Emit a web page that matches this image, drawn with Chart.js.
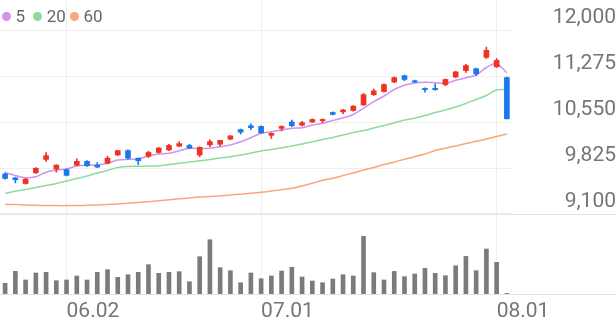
<!DOCTYPE html>
<html lang="ko">
<head>
  <meta charset="UTF-8" />
  <title>Daily price chart</title>
  <script src="https://cdn.jsdelivr.net/npm/chart.js"></script>
  <style>
    html, body { margin: 0; padding: 0; background: #fff; }
    .chart-box { position: relative; width: 616px; height: 321px; }
    /* MA legend sits on top of the plot, like the original */
    .legend { position: absolute; top: 0; left: 0; font: 17px Roboto, sans-serif; color: #666; }
    .legend .item { position: absolute; top: 6px; display: flex; align-items: center; white-space: nowrap; line-height: 20px; }
    .legend i { display: inline-block; width: 9px; height: 9px; border-radius: 50%; margin-right: 5px; }
  </style>
</head>
<body>
  <div class="chart-box">
    <canvas id="stockChart"></canvas>
    <div class="legend" id="legend"></div>
  </div>

  <script>
    // Trading days (only a few get a tick label)
    const dates = [
      '05.24','05.25','05.26','05.27','05.30','05.31','06.02','06.03','06.07','06.08',
      '06.09','06.10','06.13','06.14','06.15','06.16','06.17','06.20','06.21','06.22',
      '06.23','06.24','06.27','06.28','06.29','07.01','07.04','07.05','07.06','07.07',
      '07.08','07.11','07.12','07.13','07.14','07.15','07.18','07.19','07.20','07.21',
      '07.22','07.25','07.26','07.27','07.28','07.29','07.30','07.31','08.01','08.02'
    ];
    const tickLabels = ['06.02', '07.01', '08.01'];

    // Daily prices
    const opens  = [9730, 9670, 9580, 9750, 9960, 9810, 9800, 9870, 9930, 9870,
                    9900, 10030, 10100, 9980, 10010, 10070, 10110, 10170, 10180, 10030,
                    10190, 10200, 10280, 10430, 10490, 10480, 10340, 10450, 10550, 10500,
                    10550, 10570, 10700, 10710, 10730, 10820, 10980, 11030, 11180, 11280,
                    11200, 11080, 11080, 11140, 11260, 11360, 11390, 11570, 11420, 11250];
    const highs  = [9750, 9680, 9660, 9830, 10070, 9880, 9810, 9970, 9940, 9910,
                    10010, 10100, 10110, 9980, 10090, 10150, 10200, 10240, 10200, 10160,
                    10270, 10260, 10340, 10440, 10520, 10490, 10380, 10490, 10580, 10560,
                    10600, 10600, 10710, 10750, 10810, 11000, 11070, 11150, 11260, 11290,
                    11210, 11090, 11150, 11230, 11350, 11460, 11400, 11730, 11550, 11260];
    const lows   = [9650, 9590, 9570, 9740, 9930, 9760, 9700, 9860, 9850, 9830,
                    9890, 10020, 9960, 9880, 9990, 10060, 10100, 10160, 10130, 10000,
                    10160, 10170, 10270, 10360, 10430, 10370, 10290, 10410, 10480, 10490,
                    10540, 10540, 10660, 10680, 10720, 10810, 10970, 11020, 11170, 11200,
                    11170, 11020, 11050, 11120, 11250, 11330, 11280, 11550, 11410, 10600];
    const closes = [9660, 9640, 9650, 9820, 10020, 9870, 9710, 9930, 9860, 9840,
                    9980, 10100, 9980, 9940, 10070, 10140, 10180, 10210, 10140, 10150,
                    10240, 10260, 10330, 10390, 10460, 10380, 10370, 10480, 10490, 10540,
                    10590, 10590, 10670, 10740, 10800, 10980, 11040, 11140, 11250, 11220,
                    11180, 11060, 11060, 11220, 11340, 11440, 11310, 11680, 11520, 10600];

    // Moving averages
    const ma5  = [9754, 9707, 9672, 9688, 9757, 9793, 9809, 9856, 9872, 9872,
                  9899, 9951, 9962, 9967, 10014, 10046, 10057, 10098, 10135, 10132,
                  10135, 10161, 10187, 10239, 10302, 10372, 10397, 10424, 10451, 10460,
                  10503, 10529, 10574, 10616, 10668, 10766, 10870, 10960, 11062, 11128,
                  11165, 11176, 11169, 11161, 11207, 11247, 11291, 11409, 11469, 11325];
    const ma20 = [9423, 9459, 9486, 9518, 9549, 9581, 9620, 9659, 9699, 9746,
                  9786, 9833, 9849, 9853, 9856, 9860, 9880, 9899, 9920, 9938,
                  9959, 9983, 10003, 10030, 10061, 10093, 10117, 10143, 10172, 10203,
                  10238, 10274, 10306, 10345, 10384, 10416, 10455, 10495, 10537, 10581,
                  10613, 10652, 10700, 10739, 10786, 10841, 10905, 10968, 11054, 11062];
    const ma60 = [9253, 9248, 9242, 9237, 9234, 9232, 9232, 9234, 9237, 9242,
                  9250, 9258, 9270, 9281, 9294, 9308, 9324, 9340, 9352, 9368,
                  9376, 9387, 9399, 9412, 9426, 9442, 9462, 9483, 9505, 9541,
                  9584, 9631, 9663, 9707, 9746, 9793, 9833, 9880, 9920, 9962,
                  10003, 10046, 10101, 10137, 10172, 10211, 10246, 10282, 10321, 10361];

    const volumes = [53500, 113500, 70000, 105000, 108500, 66500, 70000, 90000, 70000, 108500,
                     121500, 83500, 96500, 108500, 146500, 103500, 108500, 111500, 61500, 186500,
                     271500, 131500, 116500, 56500, 105000, 76500, 90000, 115000, 133500, 85000,
                     65000, 56500, 75000, 96500, 90000, 288000, 106500, 70000, 113000, 86500,
                     100000, 128000, 103000, 91500, 141500, 188000, 116500, 225000, 158000, 3000];

    const priceTicks = [9100, 9825, 10550, 11275, 12000];

    const maLabels = ['5', '20', '60'];
    const maColors = ['#d292ee', '#8edb9c', '#fba57c'];
    const upColor = '#ee3322';
    const downColor = '#1a78e8';
    const textColor = '#757575';
    const gridColor = '#efefef';

    // axis ranges: price panel on top, volume panel under it
    const priceMin = 7839;
    const priceMax = 12473;
    const volAxisMax = 1470000;

    const candleColors = closes.map((c, i) => c >= opens[i] ? upColor : downColor);
    const bodies = opens.map((o, i) => [o, closes[i]]);
    const wicks = lows.map((l, i) => [l, highs[i]]);

    // Legend
    const legendEl = document.getElementById('legend');
    const legendLeft = [1.5, 32.8, 69.5];
    maLabels.forEach((lab, i) => {
      const item = document.createElement('span');
      item.className = 'item';
      item.style.left = legendLeft[i] + 'px';
      item.innerHTML = '<i style="background:' + maColors[i] + '"></i>' + lab;
      legendEl.appendChild(item);
    });

    // Lines at the bottom of the price panel and the volume panel span the whole width
    const fullWidthLines = {
      id: 'fullWidthLines',
      beforeDatasetsDraw(chart) {
        const { ctx, width } = chart;
        const yPrice = Math.round(chart.scales.y.getPixelForValue(priceTicks[0])) + 0.5;
        const yVol = Math.round(chart.scales.yv.getPixelForValue(0)) + 0.5;
        ctx.save();
        ctx.strokeStyle = '#e3e3e3';
        ctx.lineWidth = 1;
        ctx.beginPath();
        ctx.moveTo(0, yPrice); ctx.lineTo(width, yPrice);
        ctx.moveTo(0, yVol); ctx.lineTo(width, yVol);
        ctx.stroke();
        ctx.restore();
      }
    };

    const lineSet = (data, color) => ({
      type: 'line',
      data: data,
      yAxisID: 'y',
      borderColor: color,
      borderWidth: 1.5,
      pointRadius: 0,
      tension: 0.3,
      fill: false,
      order: 1
    });

    const ctx = document.getElementById('stockChart').getContext('2d');
    const stockChart = new Chart(ctx, {
      data: {
        labels: dates,
        datasets: [
          { type: 'bar', data: wicks, yAxisID: 'y', backgroundColor: candleColors,
            barThickness: 1, grouped: false, order: 0 },
          { type: 'bar', data: bodies, yAxisID: 'y', backgroundColor: candleColors,
            barThickness: 5, grouped: false, order: 0 },
          lineSet(ma5, maColors[0]),
          lineSet(ma20, maColors[1]),
          lineSet(ma60, maColors[2]),
          { type: 'bar', data: volumes, yAxisID: 'yv', backgroundColor: '#7b7b7b',
            barThickness: 4, grouped: false, order: 2 }
        ]
      },
      options: {
        animation: false,
        responsive: true,
        maintainAspectRatio: false,
        layout: { padding: 0 },
        plugins: {
          legend: { display: false },
          tooltip: { enabled: false }
        },
        scales: {
          x: {
            type: 'category',
            offset: true,
            grid: { offset: false, color: gridColor, drawTicks: false },
            border: { display: false },
            ticks: {
              autoSkip: false,
              maxRotation: 0,
              align: 'start',
              padding: 5,
              color: textColor,
              font: { family: 'Roboto', size: 21 }
            },
            afterBuildTicks: s => {
              s.ticks = dates.map((d, i) => i)
                .filter(i => tickLabels.includes(dates[i]))
                .map(i => ({ value: i }));
            },
            afterFit: s => { s.height = 27; s.paddingLeft = 0; s.paddingRight = 0; }
          },
          y: {
            position: 'right',
            min: priceMin,
            max: priceMax,
            grid: { color: gridColor, drawTicks: false },
            border: { display: false },
            ticks: {
              crossAlign: 'far',
              padding: 35,
              labelOffset: -12,
              color: textColor,
              font: { family: 'Roboto', size: 21 },
              callback: v => v.toLocaleString('en-US')
            },
            afterBuildTicks: s => { s.ticks = priceTicks.map(v => ({ value: v })); },
            afterFit: s => { s.width = 104; s.paddingTop = 0; s.paddingBottom = 0; }
          },
          yv: {
            display: false,
            min: 0,
            max: volAxisMax
          }
        }
      },
      plugins: [fullWidthLines]
    });
  </script>
</body>
</html>
